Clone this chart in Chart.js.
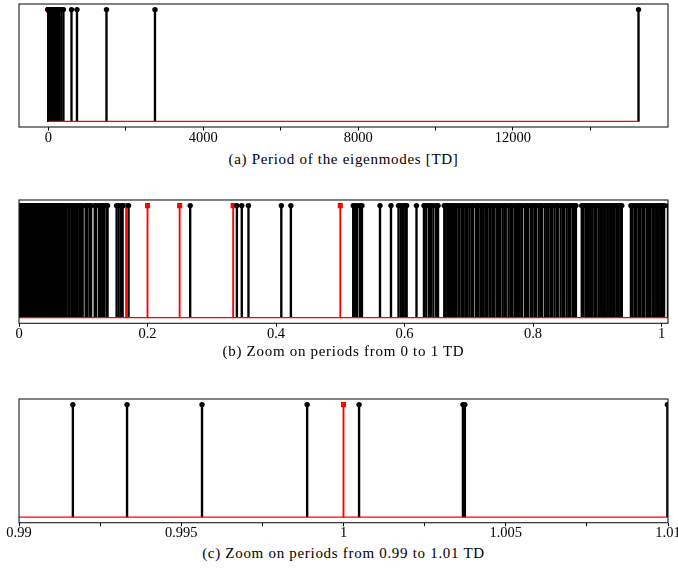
<!DOCTYPE html>
<html>
<head>
<meta charset="utf-8">
<script src="https://cdn.jsdelivr.net/npm/chart.js@4.4.1/dist/chart.umd.min.js"></script>
<style>
  html, body { margin: 0; padding: 0; background: #fff; overflow: hidden; }
  body { width: 678px; height: 570px; position: relative; }
  canvas { position: absolute; left: 0; }
  .cap {
    position: absolute; left: 19px; width: 649px; text-align: center;
    font-family: "Liberation Serif", serif; font-size: 15px; line-height: 17px;
    letter-spacing: 0.7px; color: #000;
  }
</style>
</head>
<body>
<canvas id="chartA" width="678" height="150" style="top:0px"></canvas>
<div class="cap" style="top:151px">(a) Period of the eigenmodes [TD]</div>
<canvas id="chartB" width="678" height="150" style="top:196px"></canvas>
<div class="cap" style="top:343px">(b) Zoom on periods from 0 to 1 TD</div>
<canvas id="chartC" width="678" height="150" style="top:395px"></canvas>
<div class="cap" style="top:545px">(c) Zoom on periods from 0.99 to 1.01 TD</div>
<script>
// periods of the eigenmodes [TD]
const periods = [
  0.0008, 0.0019, 0.0031, 0.0039, 0.0052, 0.0068, 0.0077, 0.0091, 0.0106, 0.0114,
  0.0129, 0.0147, 0.0156, 0.0171, 0.0184, 0.0197, 0.0213, 0.0222, 0.0238, 0.0255,
  0.0264, 0.0281, 0.0293, 0.0309, 0.0322, 0.0337, 0.0351, 0.0362, 0.0379, 0.0394,
  0.0406, 0.0421, 0.0433, 0.0450, 0.0462, 0.0479, 0.0491, 0.0507, 0.0518, 0.0536,
  0.0549, 0.0563, 0.0578, 0.0590, 0.0604, 0.0619, 0.0631,
  0.0652, 0.0668, 0.0689, 0.0718, 0.0735, 0.0768, 0.0789, 0.0823, 0.0852, 0.0871,
  0.0905, 0.0938, 0.0967, 0.0991, 0.1037, 0.1062, 0.1099, 0.1123, 0.1178, 0.1201,
  0.1246, 0.1272, 0.1297, 0.1322, 0.1361, 0.1378, 0.1519, 0.1551, 0.1589, 0.1613,
  0.1705,
  0.2664, 0.3391, 0.3467, 0.3571, 0.4082, 0.4231,
  0.5201, 0.5228, 0.5262, 0.5305, 0.5337, 0.5618, 0.5789, 0.5906, 0.5942, 0.5978,
  0.6011, 0.6033, 0.6186, 0.6302, 0.6338, 0.6381, 0.6412, 0.6449, 0.6493, 0.6521,
  0.6618, 0.6641, 0.6673, 0.6689, 0.6724, 0.6752, 0.6768, 0.6803, 0.6839, 0.6857,
  0.6896, 0.6921, 0.6958, 0.6979, 0.7012, 0.7047, 0.7069, 0.7113, 0.7131, 0.7152,
  0.7188, 0.7204, 0.7231, 0.7263, 0.7286, 0.7322, 0.7341, 0.7379, 0.7398, 0.7436,
  0.7471, 0.7489, 0.7527, 0.7558, 0.7575, 0.7618, 0.7649, 0.7672, 0.7711, 0.7736,
  0.7768, 0.7793, 0.7829, 0.7874, 0.7902, 0.7921, 0.7963, 0.7992, 0.8027, 0.8046,
  0.8088, 0.8119, 0.8137, 0.8182, 0.8213, 0.8241, 0.8276, 0.8297, 0.8334, 0.8369,
  0.8385, 0.8428, 0.8461, 0.8483, 0.8522, 0.8553, 0.8579, 0.8617, 0.8638, 0.8667,
  0.8758, 0.8781, 0.8816, 0.8842, 0.8869, 0.8903, 0.8927, 0.8964, 0.8981, 0.9018,
  0.9046, 0.9071, 0.9103, 0.9129, 0.9157, 0.9186, 0.9212, 0.9247, 0.9269, 0.9301,
  0.9326, 0.9358, 0.9381,
  0.9523, 0.9549, 0.9586, 0.9611, 0.9648, 0.9672, 0.9706, 0.9729, 0.9767, 0.9791,
  0.9822, 0.9858, 0.9879, 0.99166, 0.99333, 0.99564, 0.99888, 1.00048, 1.00368, 1.00374,
  1.00998,
  1.0213, 1.0468, 1.0891, 1.162, 1.247, 1.372, 1.526, 1.781, 2.094, 2.613,
  3.318, 4.42, 6.07, 8.71, 12.5, 18.2, 25.9, 36.4, 48.7, 63.5,
  81.2, 99.6, 121, 143, 166, 188, 213, 236, 259, 281,
  332, 386, 594, 736, 1498, 2751, 15244
];
// red square stems
const harmonics = [1, 0.5, 0.3333, 0.25, 0.2, 0.1667];

const ticksA = [0, 2000, 4000, 6000, 8000, 10000, 12000, 14000];
const labelsA = ['0', '', '4000', '', '8000', '', '12000', ''];
const ticksB = [0, 0.2, 0.4, 0.6, 0.8, 1];
const labelsB = ['0', '0.2', '0.4', '0.6', '0.8', '1'];
const ticksC = [0.99, 0.9925, 0.995, 0.9975, 1, 1.0025, 1.005, 1.0075, 1.01];
const labelsC = ['0.99', '', '0.995', '', '1', '', '1.005', '', '1.01'];

const rangeA = [-762, 16006];
const rangeB = [0, 1.01];
const rangeC = [0.99, 1.01];

const xMin = Math.min(...periods, ...harmonics);
const xMax = Math.max(...periods, ...harmonics);

function tops(vals) { return vals.map(v => ({ x: v, y: 1 })); }

// box round the plot area
const frame = {
  id: 'frame',
  afterDatasetsDraw(chart) {
    const { ctx, chartArea: a } = chart;
    ctx.save();
    ctx.strokeStyle = '#1a1a1a';
    ctx.lineWidth = 1.1;
    ctx.strokeRect(a.left, a.top, a.right - a.left, a.bottom - a.top);
    ctx.restore();
  }
};

function makeChart(id, canvasTop, areaTop, areaBottom, range, tickVals, tickLabels) {
  const canvas = document.getElementById(id);
  const h = canvas.height;
  return new Chart(canvas, {
    type: 'bar',
    data: {
      datasets: [
        { type: 'line', data: [{ x: xMin, y: 0 }, { x: xMax, y: 0 }],
          borderColor: '#ff0000', borderWidth: 1.3, pointRadius: 0, clip: 0, order: 0 },
        { type: 'scatter', data: tops(periods), pointRadius: 2.7, pointBorderWidth: 0,
          pointBackgroundColor: '#000', clip: 0, order: 1 },
        { type: 'bar', data: tops(periods), backgroundColor: '#000', barThickness: 1.7,
          grouped: false, borderWidth: 0, clip: 0, order: 2 },
        { type: 'scatter', data: tops(harmonics), pointStyle: 'rect', pointRadius: 3.6,
          pointBorderWidth: 0, pointBackgroundColor: '#ff0000', clip: 0, order: 3 },
        { type: 'bar', data: tops(harmonics), backgroundColor: '#ff0000', barThickness: 1.2,
          grouped: false, borderWidth: 0, clip: 0, order: 4 }
      ]
    },
    options: {
      responsive: false,
      animation: false,
      layout: { padding: { left: 19, right: 10, top: areaTop - canvasTop, bottom: 0 } },
      plugins: { legend: { display: false }, tooltip: { enabled: false } },
      scales: {
        x: {
          type: 'linear', min: range[0], max: range[1], offset: false, bounds: 'data',
          border: { display: false },
          grid: { display: true, offset: false, drawOnChartArea: false, drawTicks: true,
                  tickLength: 3.5, color: '#000', lineWidth: 1 },
          ticks: {
            autoSkip: false, maxRotation: 0, padding: 0, color: '#000',
            font: { family: '"Liberation Serif", serif', size: 14.5, lineHeight: 1 },
            callback: (v, i) => tickLabels[i]
          },
          afterBuildTicks: s => { s.ticks = tickVals.map(v => ({ value: v })); },
          afterFit: s => { s.height = h - (areaBottom - canvasTop); s.paddingLeft = 0; s.paddingRight = 0; }
        },
        y: { type: 'linear', min: -0.05, max: 1.05, display: false }
      }
    },
    plugins: [frame]
  });
}

makeChart('chartA', 0, 1, 127, rangeA, ticksA, labelsA);
makeChart('chartB', 196, 197.3, 323.3, rangeB, ticksB, labelsB);
makeChart('chartC', 395, 395.7, 522.7, rangeC, ticksC, labelsC);
</script>
</body>
</html>
